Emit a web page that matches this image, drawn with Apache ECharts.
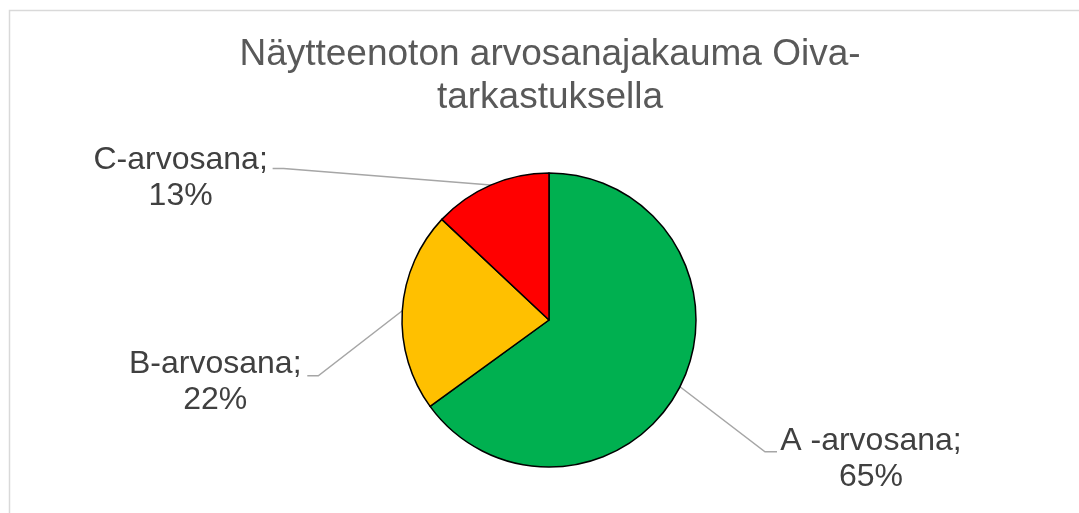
<!DOCTYPE html>
<html>
<head>
<meta charset="utf-8">
<script src="https://cdn.jsdelivr.net/npm/echarts@6/dist/echarts.min.js"></script>
<style>
html,body{margin:0;padding:0;background:#fff;}
#chart{width:1079px;height:513px;}
</style>
</head>
<body>
<div id="chart"></div>
<script>
const titleText = 'Näytteenoton arvosanajakauma Oiva-\ntarkastuksella';
const categories = ['A -arvosana', 'B-arvosana', 'C-arvosana'];
const values = [65, 22, 13];
const colors = ['#00B050', '#FFC000', '#FF0000'];

// leader-line geometry relative to the library's slice edge point (layout only)
const leaderBend = [[85, 65], [-84, 65], [-207, -16.5]];
const leaderTail = [12, -11, -11];
const labelOffset = [[94, 7], [-92, 6], [-92, 9.5]];

const chart = echarts.init(document.getElementById('chart'), null, {renderer: 'canvas'});
const FONT = "'Liberation Sans', Arial, sans-serif";

chart.setOption({
  backgroundColor: '#ffffff',
  animation: false,
  graphic: [{
    type: 'rect',
    shape: {x: 9.5, y: 10.5, width: 1200, height: 700},
    style: {fill: 'none', stroke: '#d9d9d9', lineWidth: 1.5},
    silent: true
  }],
  title: {
    text: titleText,
    left: 550,
    top: 33,
    padding: 0,
    textAlign: 'center',
    textStyle: {fontFamily: FONT, fontSize: 37, fontWeight: 'normal', color: '#595959', lineHeight: 43}
  },
  series: [{
    type: 'pie',
    center: [549, 320],
    radius: 147,
    startAngle: 90,
    clockwise: true,
    data: categories.map((c, i) => ({name: c, value: values[i], itemStyle: {color: colors[i]}})),
    itemStyle: {borderColor: '#000000', borderWidth: 1.5},
    label: {
      show: true,
      position: 'outside',
      formatter: '{b};\n{c}%',
      fontFamily: FONT,
      fontSize: 32,
      lineHeight: 36,
      color: '#404040',
      align: 'center'
    },
    labelLine: {
      show: true,
      length: 20,
      length2: 10,
      lineStyle: {color: '#a6a6a6', width: 1.5}
    },
    labelLayout: function (params) {
      const i = params.dataIndex;
      const s = params.labelLinePoints[0];
      const b = [s[0] + leaderBend[i][0], s[1] + leaderBend[i][1]];
      const e = [b[0] + leaderTail[i], b[1]];
      return {
        x: e[0] + labelOffset[i][0],
        y: e[1] + labelOffset[i][1],
        align: 'center',
        verticalAlign: 'middle',
        labelLinePoints: [s, b, e]
      };
    }
  }]
});
</script>
</body>
</html>
